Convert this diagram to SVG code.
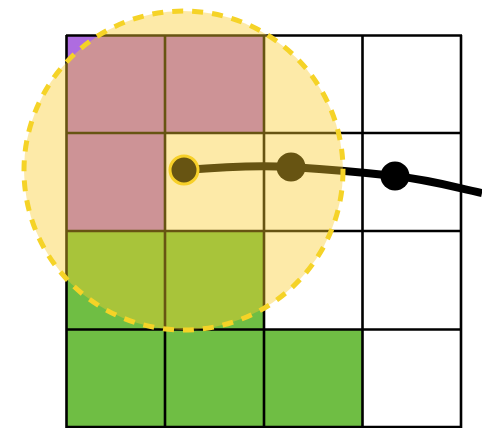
<svg xmlns="http://www.w3.org/2000/svg" width="482" height="428" viewBox="0 0 482 428">
<style>
.purple{fill:#ae6ce0}
.green{fill:#6fbe44}
.grid{stroke:#000;stroke-width:2.6;fill:none}
.dot{fill:#000}
.path{stroke:#000;stroke-width:8;fill:none;stroke-linecap:butt}
.lens{fill:rgb(250,205,44);fill-opacity:0.41;stroke:#f5d327;stroke-width:5;stroke-dasharray:11 9}
</style>
<rect width="482" height="428" fill="#fff"/>
<g id="cells">
<rect class="purple" x="66" y="35" width="99" height="98"/>
<rect class="purple" x="165" y="35" width="99" height="98"/>
<rect class="purple" x="66" y="133" width="99" height="98"/>
<rect class="green" x="66" y="231" width="99" height="98"/>
<rect class="green" x="165" y="231" width="99" height="98"/>
<rect class="green" x="66" y="329" width="99" height="99"/>
<rect class="green" x="165" y="329" width="99" height="99"/>
<rect class="green" x="264" y="329" width="98" height="99"/>
</g>
<g id="grid" class="grid">
<path d="M66.5,35V428M165,35V428M264,35V428M362.5,35V428M461,35V428"/>
<path d="M66,35.5H462M66,133H462M66,231H462M66,329.5H462M66,427H462"/>
</g>
<g id="connectors">
<path class="path" d="M184,170 C220,167 260,165 291,167 S360,172 395,176 S450,186 482,193"/>
</g>
<g id="node-start"><circle cx="184" cy="170" r="14" fill="#000" stroke="#f5d327" stroke-width="3"/></g>
<g id="node-mid"><circle class="dot" cx="291" cy="167" r="14.5"/></g>
<g id="node-end"><circle class="dot" cx="395" cy="176" r="14.5"/></g>
<g id="lens"><circle class="lens" cx="183.5" cy="170.5" r="159.5"/></g>
</svg>
